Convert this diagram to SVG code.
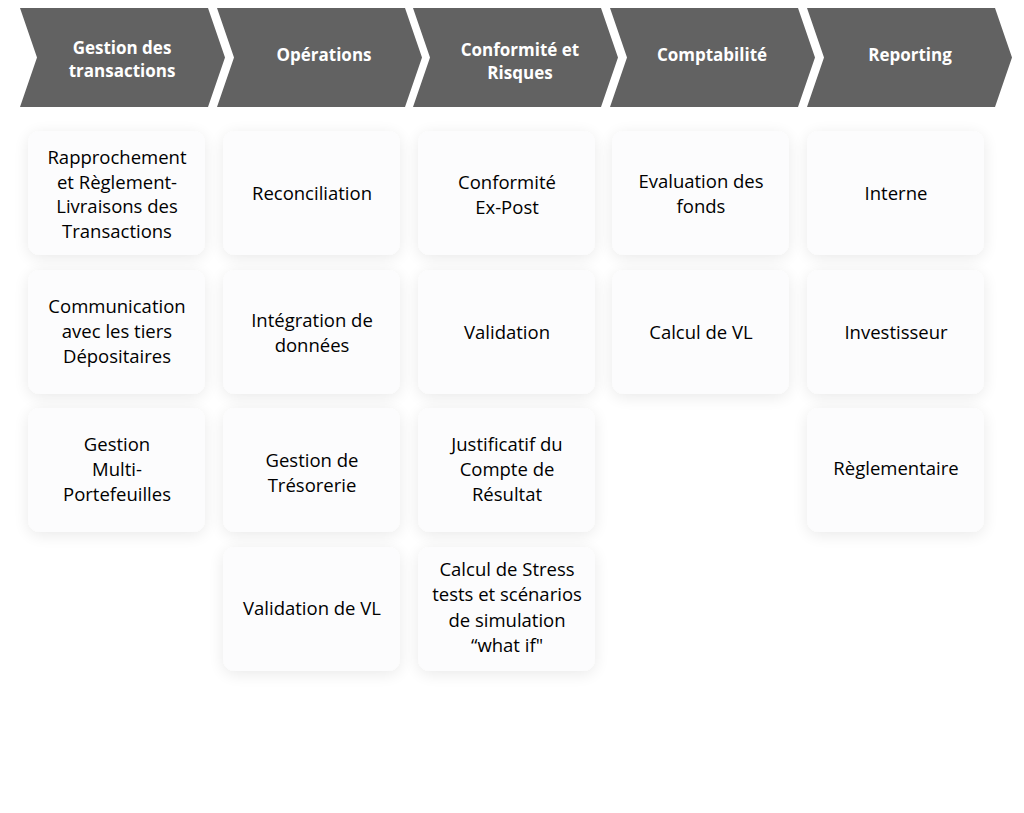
<svg xmlns="http://www.w3.org/2000/svg" width="1024" height="813" viewBox="0 0 1024 813">
<defs>
<filter id="sh" x="-25%" y="-25%" width="150%" height="150%">
<feGaussianBlur in="SourceAlpha" stdDeviation="8"/>
<feOffset dx="0" dy="3" result="b"/>
<feComponentTransfer><feFuncA type="linear" slope="0.09"/></feComponentTransfer>
<feMerge><feMergeNode/><feMergeNode in="SourceGraphic"/></feMerge>
</filter>
<path id="chev" d="M0,0 H188 L205,49.5 L188,99 H0 L17,49.5 Z"/>
</defs>
<style>
.hd{fill:#626262;}
.ht{fill:#ffffff;font-family:"Open Sans","Liberation Sans",sans-serif;font-weight:bold;font-size:17px;text-anchor:middle;}
.card{fill:#fcfcfd;filter:url(#sh);}
.ct{fill:#000000;font-family:"Open Sans","Liberation Sans",sans-serif;font-size:18.5px;text-anchor:middle;}
</style>
<rect width="1024" height="813" fill="#ffffff"/>
<g id="header-1"><use href="#chev" x="20" y="8" class="hd"/><text class="ht" x="122" y="54">Gestion des</text><text class="ht" x="122" y="77">transactions</text></g>
<g id="header-2"><use href="#chev" x="217" y="8" class="hd"/><text class="ht" x="324" y="61">Opérations</text></g>
<g id="header-3"><use href="#chev" x="413" y="8" class="hd"/><text class="ht" x="520" y="56">Conformité et</text><text class="ht" x="520" y="79">Risques</text></g>
<g id="header-4"><use href="#chev" x="610" y="8" class="hd"/><text class="ht" x="712" y="61">Comptabilité</text></g>
<g id="header-5"><use href="#chev" x="807" y="8" class="hd"/><text class="ht" x="910" y="61">Reporting</text></g>

<g id="c1r1"><rect class="card" x="28" y="131" width="177" height="124" rx="12"/><text class="ct" x="117" y="164">Rapprochement</text><text class="ct" x="117" y="189">et Règlement-</text><text class="ct" x="117" y="213">Livraisons des</text><text class="ct" x="117" y="238">Transactions</text></g>
<g id="c2r1"><rect class="card" x="223" y="131" width="177" height="124" rx="12"/><text class="ct" x="312" y="200">Reconciliation</text></g>
<g id="c3r1"><rect class="card" x="418" y="131" width="177" height="124" rx="12"/><text class="ct" x="507" y="189">Conformité</text><text class="ct" x="507" y="214">Ex-Post</text></g>
<g id="c4r1"><rect class="card" x="612" y="131" width="177" height="124" rx="12"/><text class="ct" x="701" y="188">Evaluation des</text><text class="ct" x="701" y="213">fonds</text></g>
<g id="c5r1"><rect class="card" x="807" y="131" width="177" height="124" rx="12"/><text class="ct" x="896" y="200">Interne</text></g>

<g id="c1r2"><rect class="card" x="28" y="270" width="177" height="124" rx="12"/><text class="ct" x="117" y="313">Communication</text><text class="ct" x="117" y="338">avec les tiers</text><text class="ct" x="117" y="363">Dépositaires</text></g>
<g id="c2r2"><rect class="card" x="223" y="270" width="177" height="124" rx="12"/><text class="ct" x="312" y="327">Intégration de</text><text class="ct" x="312" y="352">données</text></g>
<g id="c3r2"><rect class="card" x="418" y="270" width="177" height="124" rx="12"/><text class="ct" x="507" y="339">Validation</text></g>
<g id="c4r2"><rect class="card" x="612" y="270" width="177" height="124" rx="12"/><text class="ct" x="701" y="339">Calcul de VL</text></g>
<g id="c5r2"><rect class="card" x="807" y="270" width="177" height="124" rx="12"/><text class="ct" x="896" y="339">Investisseur</text></g>

<g id="c1r3"><rect class="card" x="28" y="408" width="177" height="124" rx="12"/><text class="ct" x="117" y="451">Gestion</text><text class="ct" x="117" y="476">Multi-</text><text class="ct" x="117" y="501">Portefeuilles</text></g>
<g id="c2r3"><rect class="card" x="223" y="408" width="177" height="124" rx="12"/><text class="ct" x="312" y="467">Gestion de</text><text class="ct" x="312" y="492">Trésorerie</text></g>
<g id="c3r3"><rect class="card" x="418" y="408" width="177" height="124" rx="12"/><text class="ct" x="507" y="451">Justificatif du</text><text class="ct" x="507" y="476">Compte de</text><text class="ct" x="507" y="501">Résultat</text></g>
<g id="c5r3"><rect class="card" x="807" y="408" width="177" height="124" rx="12"/><text class="ct" x="896" y="475">Règlementaire</text></g>

<g id="c2r4"><rect class="card" x="223" y="547" width="177" height="124" rx="12"/><text class="ct" x="312" y="615">Validation de VL</text></g>
<g id="c3r4"><rect class="card" x="418" y="547" width="177" height="124" rx="12"/><text class="ct" x="507" y="576">Calcul de Stress</text><text class="ct" x="507" y="601">tests et scénarios</text><text class="ct" x="507" y="627">de simulation</text><text class="ct" x="507" y="652">“what if"</text></g>
<g id="connectors"></g>
</svg>
